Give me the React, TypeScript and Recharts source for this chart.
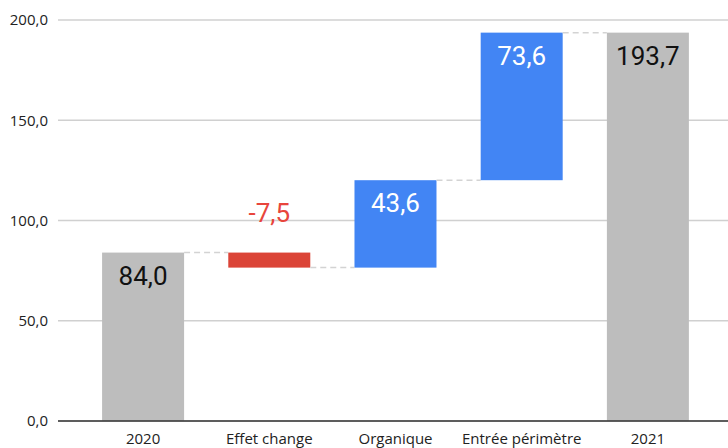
import React from 'react';
import { BarChart, Bar, XAxis, YAxis, CartesianGrid, LabelList, Cell } from 'recharts';

const categories = ['2020', 'Effet change', 'Organique', 'Entrée périmètre', '2021'];
const values = [84.0, -7.5, 43.6, 73.6, 193.7];
const kinds = ['total', 'delta', 'delta', 'delta', 'total'];
const yTicks = [0, 50, 100, 150, 200];

const GREY = '#bdbdbd';
const BLUE = '#4285f4';
const RED = '#db4437';

// build invisible base + visible step for the waterfall
let running = 0;
const data = categories.map((name, i) => {
  const v = values[i];
  let base = 0;
  let size = v;
  if (kinds[i] === 'total') {
    running = v;
  } else {
    base = Math.min(running, running + v);
    size = Math.abs(v);
    running += v;
  }
  return { name, base, size, value: v, kind: kinds[i], down: v < 0 && kinds[i] === 'delta' };
});

const fmt = (v: number) => v.toFixed(1).replace('.', ',');
const colorOf = (d: any) => (d.kind === 'total' ? GREY : d.value < 0 ? RED : BLUE);

// category gap 17.5% each side -> gap between bars = width * 0.35 / 0.65
const StepBar = (props: any) => {
  const { x, y, width, height, index, fill } = props;
  const d = data[index];
  const gap = (width * 0.35) / 0.65;
  const lvl = d.down ? y + height : y;
  return (
    <g>
      <rect x={x} y={y} width={width} height={height} fill={fill} />
      {index < data.length - 1 && (
        <line x1={x + width} x2={x + width + gap} y1={lvl} y2={lvl} stroke="#d3d3d3" strokeWidth={1.5} strokeDasharray="6 4" />
      )}
    </g>
  );
};

const ValueLabel = (props: any) => {
  const { x, y, width, index } = props;
  const d = data[index];
  const color = d.kind === 'total' ? '#111' : d.value < 0 ? '#e8453c' : '#fff';
  const ty = d.down ? y - 31 : y + 32;
  return (
    <text x={x + width / 2} y={ty} textAnchor="middle" fill={color} fontSize={26} fontFamily="Roboto">
      {fmt(d.value)}
    </text>
  );
};

export default function App() {
  return (
    <div style={{ position: 'fixed', left: 0, top: 0, background: '#fff' }}>
      <BarChart
        width={728}
        height={448}
        data={data}
        margin={{ top: 20, right: 0, left: 0, bottom: 0 }}
        barCategoryGap="17.5%"
      >
        <CartesianGrid vertical={false} stroke="#d0d0d0" strokeWidth={1.5} />
        <XAxis
          dataKey="name"
          height={27}
          tickLine={false}
          axisLine={{ stroke: '#333', strokeWidth: 1.5 }}
          padding={{ left: 22, right: 17 }}
          tickMargin={6}
          tick={{ fontSize: 15, fill: '#222', fontFamily: 'Open Sans' }}
        />
        <YAxis
          width={58}
          domain={[0, 200]}
          ticks={yTicks}
          tickFormatter={fmt}
          axisLine={false}
          tickLine={false}
          tickMargin={4}
          tick={{ fontSize: 15, fill: '#222', fontFamily: 'Open Sans' }}
        />
        <Bar dataKey="base" stackId="w" fill="transparent" isAnimationActive={false} />
        <Bar dataKey="size" stackId="w" shape={<StepBar />} isAnimationActive={false}>
          {data.map((d, i) => (
            <Cell key={i} fill={colorOf(d)} />
          ))}
          <LabelList dataKey="size" content={<ValueLabel />} />
        </Bar>
      </BarChart>
    </div>
  );
}
